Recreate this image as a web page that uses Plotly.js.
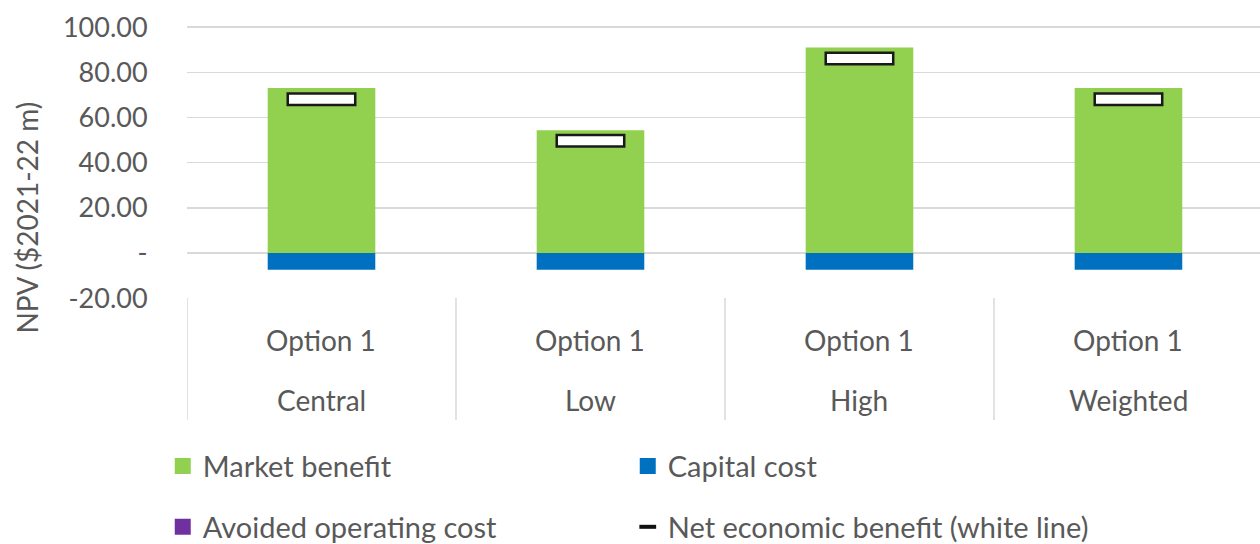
<!DOCTYPE html>
<html>
<head>
<meta charset="utf-8">
<script src="https://cdn.plot.ly/plotly-3.0.1.min.js"></script>
<style>html,body{margin:0;padding:0;background:#fff;}#chart{width:1260px;height:544px;}</style>
</head>
<body>
<div id="chart"></div>
<script>
// ---- data ----
const scenarios = ["Central", "Low", "High", "Weighted"];
const optionLabels = ["Option 1", "Option 1", "Option 1", "Option 1"];
const marketBenefit = [73.0, 54.3, 91.0, 73.0];
const capitalCost = [-7.4, -7.4, -7.4, -7.4];
const avoidedOperatingCost = [0, 0, 0, 0];
const netBenefit = [68.1, 49.7, 86.1, 68.1];
const yTickVals = [-20, 0, 20, 40, 60, 80, 100];
const yTickText = ["-20.00", "-", "20.00", "40.00", "60.00", "80.00", "100.00"];
const yTitle = "NPV ($2021-22 m)";

const FONT = "Lato, 'Open Sans', sans-serif";
const TXT = "#595959";
const GRID = "#D9D9D9";
const GREEN = "#92D050", BLUE = "#0070C0", PURPLE = "#7030A0";
const noPoints = scenarios.map(() => null);

const traces = [
  {type: "bar", x: scenarios, y: marketBenefit, name: "Market benefit", showlegend: false,
   marker: {color: GREEN, line: {width: 0}}, width: 0.4, hoverinfo: "skip"},
  {type: "bar", x: scenarios, y: capitalCost, name: "Capital cost", showlegend: false,
   marker: {color: BLUE, line: {width: 0}}, width: 0.4, hoverinfo: "skip"},
  {type: "bar", x: scenarios, y: avoidedOperatingCost, name: "Avoided operating cost", showlegend: false,
   marker: {color: PURPLE, line: {width: 0}}, width: 0.4, hoverinfo: "skip"},
  {type: "scatter", mode: "markers", x: scenarios, y: netBenefit, name: "Net economic benefit (white line)",
   showlegend: false, marker: {symbol: "line-ew", size: 50, line: {color: "#1a1a1a", width: 14}}, hoverinfo: "skip"},
  {type: "scatter", mode: "markers", x: scenarios, y: netBenefit, showlegend: false,
   marker: {symbol: "line-ew", size: 46.4, line: {color: "#ffffff", width: 9}}, hoverinfo: "skip"},
  // legend keys (no points drawn)
  {type: "scatter", mode: "markers", x: scenarios, y: noPoints, name: "Market benefit", legend: "legend",
   marker: {symbol: "square", size: 16, color: GREEN}, hoverinfo: "skip"},
  {type: "scatter", mode: "markers", x: scenarios, y: noPoints, name: "Capital cost", legend: "legend",
   marker: {symbol: "square", size: 16, color: BLUE}, hoverinfo: "skip"},
  {type: "scatter", mode: "markers", x: scenarios, y: noPoints, name: "Avoided operating cost", legend: "legend2",
   marker: {symbol: "square", size: 16, color: PURPLE}, hoverinfo: "skip"},
  {type: "scatter", mode: "markers", x: scenarios, y: noPoints, name: "Net economic benefit (white line)", legend: "legend2",
   marker: {symbol: "line-ew", size: 12, line: {color: "#111111", width: 4}}, hoverinfo: "skip"}
];

const annotations = [];
scenarios.forEach((s, i) => {
  annotations.push({x: s, xref: "x", y: -0.150, yref: "paper", text: optionLabels[i], showarrow: false,
    font: {family: FONT, size: 28, color: TXT}, xanchor: "center", yanchor: "middle"});
  annotations.push({x: s, xref: "x", y: -0.370, yref: "paper", text: s, showarrow: false,
    font: {family: FONT, size: 28, color: TXT}, xanchor: "center", yanchor: "middle"});
});
annotations.push({x: -0.150, xref: "paper", y: 0.2985, yref: "paper", text: yTitle, textangle: -90,
  showarrow: false, font: {family: FONT, size: 28, color: TXT}, xanchor: "center", yanchor: "middle"});

const shapes = [];
for (let k = 0; k <= scenarios.length - 1; k++) {
  shapes.push({type: "line", xref: "x", x0: k - 0.5, x1: k - 0.5, yref: "paper", y0: 0.004, y1: -0.443,
    line: {color: GRID, width: 1.5}});
}

const legendBase = {orientation: "h", x: -0.0226, xanchor: "left", yanchor: "middle",
  entrywidth: 420, entrywidthmode: "pixels", font: {family: FONT, size: 29, color: TXT},
  itemsizing: "trace", bgcolor: "rgba(0,0,0,0)", itemclick: false, itemdoubleclick: false};

const layout = {
  width: 1260, height: 544,
  margin: {l: 187, r: 0, t: 26, b: 245, autoexpand: false},
  paper_bgcolor: "#ffffff", plot_bgcolor: "#ffffff",
  barmode: "overlay",
  showlegend: true,
  font: {family: FONT, color: TXT, size: 26},
  xaxis: {type: "category", range: [-0.5, 3.489], showticklabels: false, showgrid: false,
    zeroline: false, showline: false, ticks: "", fixedrange: true},
  yaxis: {range: [-20.4, 100.5], tickvals: yTickVals, ticktext: yTickText, showgrid: true,
    gridcolor: GRID, gridwidth: 1.5, zeroline: false, showline: false,
    ticks: "outside", ticklen: 0, ticklabelstandoff: 33,
    tickfont: {family: FONT, size: 27, color: TXT}, fixedrange: true},
  legend: Object.assign({}, legendBase, {y: -0.612}),
  legend2: Object.assign({}, legendBase, {y: -0.835}),
  annotations: annotations,
  shapes: shapes,
  hovermode: false
};

Plotly.newPlot("chart", traces, layout, {displayModeBar: false, staticPlot: true});
</script>
</body>
</html>
